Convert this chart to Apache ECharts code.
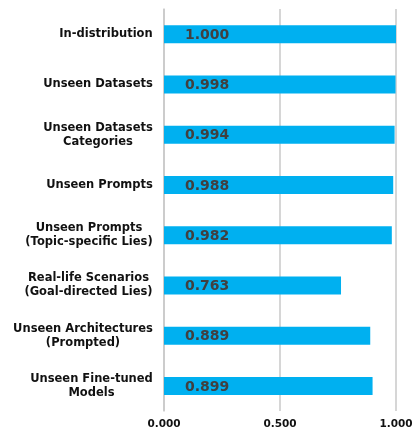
<!DOCTYPE html>
<html>
<head>
<meta charset="utf-8">
<script src="https://cdn.jsdelivr.net/npm/echarts@6/dist/echarts.min.js"></script>
<style>
html,body{margin:0;padding:0;background:#fff;}
#chart{width:417px;height:430px;}
</style>
</head>
<body>
<div id="chart"></div>
<script>
// Evaluation settings, top to bottom
const categories = [
  'In-distribution',
  'Unseen Datasets',
  'Unseen Datasets\nCategories',
  'Unseen Prompts',
  'Unseen Prompts\n(Topic-specific Lies)',
  'Real-life Scenarios\n(Goal-directed Lies)',
  'Unseen Architectures\n(Prompted)',
  'Unseen Fine-tuned\nModels'
];
// Score per setting
const scores = [1.000, 0.998, 0.994, 0.988, 0.982, 0.763, 0.889, 0.899];
// Value axis ticks
const xTicks = [0, 0.5, 1.0];

const LABEL_FONT = 'DejaVu Sans';
const LABEL_SIZE = 11.5;

// Multi-line category labels are centred line by line inside a block
// that is right-aligned against the axis; each block gets its own width.
const ctx = document.createElement('canvas').getContext('2d');
ctx.font = 'bold ' + LABEL_SIZE + 'px "' + LABEL_FONT + '"';
const rich = {};
categories.forEach((c, i) => {
  const w = Math.ceil(Math.max(...c.split('\n').map(s => ctx.measureText(s).width)));
  rich['c' + i] = {
    width: w,
    align: 'center',
    fontFamily: LABEL_FONT,
    fontWeight: 'bold',
    fontSize: LABEL_SIZE,
    lineHeight: 14,
    color: '#111'
  };
});

const chart = echarts.init(document.getElementById('chart'));
chart.setOption({
  animation: false,
  grid: { left: 164, right: 21, top: 9, bottom: 19, containLabel: false },
  xAxis: {
    type: 'value',
    min: xTicks[0],
    max: xTicks[xTicks.length - 1],
    interval: xTicks[1] - xTicks[0],
    axisLine: { show: false },
    axisTick: { show: false },
    splitLine: { lineStyle: { color: '#c8c8c8', width: 1.5 } },
    axisLabel: {
      formatter: v => v.toFixed(3),
      fontFamily: LABEL_FONT,
      fontWeight: 'bold',
      fontSize: 10.5,
      color: '#111',
      margin: 8
    }
  },
  yAxis: {
    type: 'category',
    inverse: true,
    data: categories,
    axisLine: { show: true, lineStyle: { color: '#c8c8c8', width: 1.5 } },
    axisTick: { show: false },
    axisLabel: {
      margin: 11,
      align: 'right',
      formatter: (v, i) => v.split('\n').map(s => '{c' + i + '|' + s + '}').join('\n'),
      rich: rich
    }
  },
  series: [{
    type: 'bar',
    data: scores,
    barWidth: 18,
    itemStyle: { color: '#00B0F0' },
    label: {
      show: true,
      position: 'insideLeft',
      offset: [16, 1],
      formatter: p => p.value.toFixed(3),
      fontFamily: LABEL_FONT,
      fontWeight: 'bold',
      fontSize: 14,
      color: '#404040'
    }
  }]
});
</script>
</body>
</html>
